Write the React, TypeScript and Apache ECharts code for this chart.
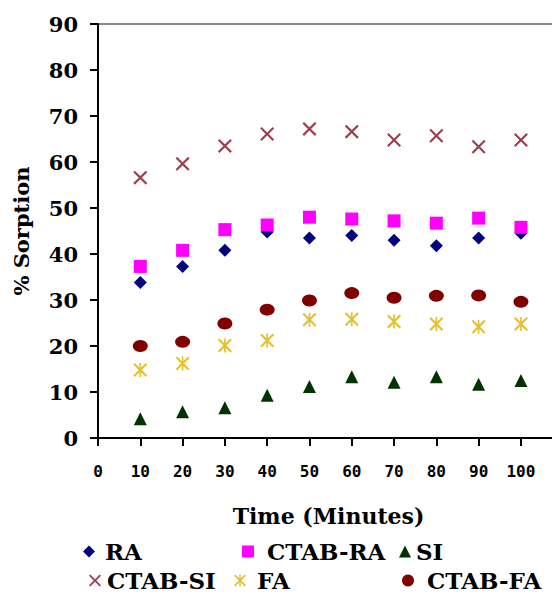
import React, { useEffect, useRef } from "react";
import * as echarts from "echarts";

const times = [10, 20, 30, 40, 50, 60, 70, 80, 90, 100];
const RA = [33.8, 37.3, 40.8, 44.8, 43.5, 44.0, 43.0, 41.8, 43.5, 44.5];
const CTAB_RA = [37.3, 40.8, 45.3, 46.3, 48.0, 47.6, 47.2, 46.7, 47.8, 45.8];
const SI = [4.2, 5.7, 6.6, 9.3, 11.2, 13.3, 12.1, 13.3, 11.7, 12.5];
const CTAB_SI = [56.6, 59.6, 63.5, 66.1, 67.2, 66.6, 64.8, 65.7, 63.3, 64.8];
const FA = [14.8, 16.2, 20.1, 21.2, 25.7, 25.8, 25.3, 24.8, 24.2, 24.8];
const CTAB_FA = [20.0, 20.9, 24.9, 27.9, 29.9, 31.5, 30.5, 30.9, 31.0, 29.6];

const yTicks = [0, 10, 20, 30, 40, 50, 60, 70, 80, 90];
const xTicks = [0, 10, 20, 30, 40, 50, 60, 70, 80, 90, 100];

const CROSS =
  "path://M0,1.1 L1.1,0 L5,3.9 L8.9,0 L10,1.1 L6.1,5 L10,8.9 L8.9,10 L5,6.1 L1.1,10 L0,8.9 L3.9,5 Z";
const STAR =
  "path://M0,1.1 L1.1,0 L5,3.9 L8.9,0 L10,1.1 L6.1,5 L10,8.9 L8.9,10 L5,6.1 L1.1,10 L0,8.9 L3.9,5 Z M4.4,0 L5.6,0 L5.6,10 L4.4,10 Z";

const SERIF = "'DejaVu Serif', serif";

export default function App() {
  const ref = useRef<HTMLDivElement>(null);
  useEffect(() => {
    if (!ref.current) return;
    const chart = echarts.init(ref.current, undefined, { renderer: "svg" });
    const pairs = (vals: number[]) => vals.map((v, i) => [times[i], v]);
    const mk = (name: string, vals: number[], symbol: string, size: any, color: string) => ({
      name,
      type: "scatter",
      data: pairs(vals),
      symbol,
      symbolSize: size,
      itemStyle: { color, opacity: 1 },
    });
    const leg = (name: string, left: number, top: number, padLeft: number) => ({
      data: [name],
      left,
      top,
      padding: 0,
      itemWidth: 12,
      itemHeight: 12,
      textStyle: {
        fontFamily: SERIF,
        fontWeight: "bold",
        fontSize: 23,
        color: "#000",
        padding: [0, 0, 0, padLeft],
      },
      selectedMode: false,
    });
    chart.setOption({
      animation: false,
      backgroundColor: "#fff",
      grid: {
        left: 98,
        right: 1,
        top: 24,
        bottom: 161,
        show: true,
        borderColor: "#8a8a8a",
        borderWidth: 2,
      },
      xAxis: {
        type: "value",
        min: 0,
        max: 109,
        interval: 10,
        splitLine: { show: false },
        axisLine: { show: true, onZero: false, lineStyle: { color: "#000", width: 2 } },
        axisTick: { show: true, length: 8, lineStyle: { color: "#000", width: 2 } },
        axisLabel: {
          margin: 25,
          fontFamily: "'DejaVu Sans Mono', monospace",
          fontWeight: "bold",
          fontSize: 16,
          color: "#000",
          showMaxLabel: false,
          formatter: (v: number) => (xTicks.includes(v) ? String(v) : ""),
        },
        name: "Time (Minutes)",
        nameLocation: "middle",
        nameGap: 67,
        nameTextStyle: { fontFamily: SERIF, fontWeight: "bold", fontSize: 22, color: "#000" },
      },
      yAxis: {
        type: "value",
        min: 0,
        max: 90,
        interval: 10,
        splitLine: { show: false },
        axisLine: { show: true, onZero: false, lineStyle: { color: "#000", width: 2 } },
        axisTick: { show: true, length: 8, lineStyle: { color: "#000", width: 2 } },
        axisLabel: {
          margin: 20,
          fontFamily: SERIF,
          fontWeight: "bold",
          fontSize: 21,
          color: "#000",
          formatter: (v: number) => (yTicks.includes(v) ? String(v) : ""),
        },
        name: "% Sorption",
        nameLocation: "middle",
        nameRotate: 90,
        nameGap: 66,
        nameTextStyle: { fontFamily: SERIF, fontWeight: "bold", fontSize: 21, color: "#000" },
      },
      legend: [
        leg("RA", 83, 540, 5),
        leg("CTAB-RA", 242, 540, 8),
        leg("SI", 399, 540, 0),
        leg("CTAB-SI", 89, 569, 1),
        leg("FA", 234, 569, 6),
        leg("CTAB-FA", 402, 569, 8),
      ],
      series: [
        mk("RA", RA, "diamond", 13, "#000080"),
        mk("CTAB-RA", CTAB_RA, "rect", 13, "#ff00ff"),
        mk("SI", SI, "triangle", 13, "#003300"),
        mk("CTAB-SI", CTAB_SI, CROSS, 14, "#9c4050"),
        mk("FA", FA, STAR, 14, "#e6c030"),
        mk("CTAB-FA", CTAB_FA, "circle", [15, 12], "#800000"),
      ],
    });
    return () => chart.dispose();
  }, []);
  return <div ref={ref} style={{ width: 560, height: 599, margin: -8 }} />;
}
